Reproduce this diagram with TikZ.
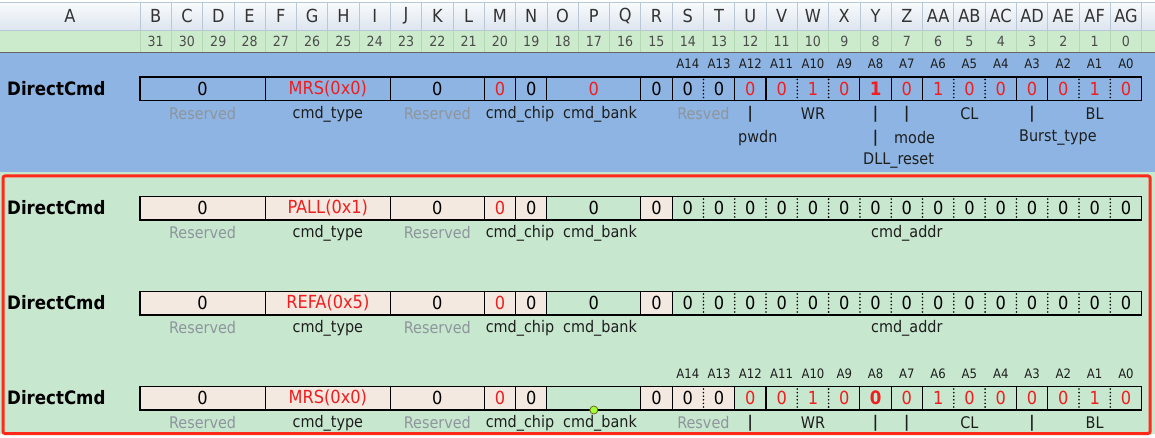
\documentclass[tikz,border=0pt]{standalone}
\usepackage{fontspec}
\setmainfont{DejaVu Sans Condensed}
\definecolor{hdrtop}{HTML}{F9FBFD}
\definecolor{hdrbot}{HTML}{DDE5EF}
\definecolor{hdrline}{HTML}{BAC7D6}
\definecolor{numrow}{HTML}{CCEACC}
\definecolor{numline}{HTML}{B3D8B3}
\definecolor{bluebg}{HTML}{8DB4E2}
\definecolor{greenbg}{HTML}{C7E7CF}
\definecolor{beige}{HTML}{F3E9E1}
\definecolor{redtxt}{HTML}{F01E1E}
\definecolor{greytxt}{HTML}{8E959D}
\definecolor{framered}{HTML}{FF2A1A}
\definecolor{darktxt}{HTML}{1E1E1E}
\newcommand\fs[1]{\fontsize{#1}{#1}\selectfont}
\newcommand\fld[7]{\node[fieldbox, fill=#5, text=#6, minimum width={(#3-#2+1)*31.3pt}] (#1) at ({140+31.3*(#2)},#4) {#7};}
\newcommand\bitrow[4]{\foreach \b/\c/\t in {#4} {\node[bitcell, fill=#3, text=\c] (#1b\b) at ({140+31.3*(31-\b)},#2) {\t};}}
\tikzset{
  fieldbox/.style={draw=black, line width=1.1pt, anchor=north west, inner sep=0pt, outer sep=0pt, minimum height=23.5pt, font=\fs{18}},
  bitcell/.style={anchor=north west, inner sep=0pt, outer sep=0pt, minimum width=31.3pt, minimum height=23.5pt, font=\fs{18}},
  gbox/.style={draw=black, line width=1.1pt},
  dsep/.style={draw=black, line width=1.8pt, line cap=round, dash pattern=on 0pt off 3.6pt},
  lbl/.style={font=\fs{16}, inner sep=0pt, text=darktxt},
  bar/.style={font=\fs{16}\bfseries, inner sep=0pt, text=darktxt},
  glbl/.style={font=\fs{16}, inner sep=0pt, text=greytxt},
  alb/.style={font=\fs{13}, inner sep=0pt, text=darktxt},
  rowname/.style={font=\fs{18.5}\bfseries, inner sep=0pt, anchor=west, text=black},
  colhdr/.style={font=\fs{18}, inner sep=0pt, text=black!80},
  colnum/.style={font=\fs{14}, inner sep=0pt, text=black!70},
}
\begin{document}
\begin{tikzpicture}[x=1pt,y=-1pt]
\useasboundingbox (0,0) rectangle (1155,438);
% backgrounds
\fill[white] (0,0) rectangle (1155,438);
\shade[top color=hdrtop, bottom color=hdrbot] (0,2) rectangle (1155,30);
\fill[numrow] (0,30) rectangle (1155,52);
\fill[bluebg] (0,53) rectangle (1155,172);
\fill[greenbg] (0,172) rectangle (1155,434);
\draw[hdrline, line width=0.8pt] (0,2) -- (1155,2);
\draw[hdrline, line width=0.8pt] (0,30) -- (1155,30);
\draw[black!60, line width=1.5pt] (0,52.5) -- (1155,52.5);
\foreach \i in {0,...,32} {
  \draw[hdrline, line width=0.8pt] ({140+31.3*\i},2) -- ({140+31.3*\i},30);
  \draw[numline, line width=0.8pt] ({140+31.3*\i},30) -- ({140+31.3*\i},52);
}
% column headers
\node[colhdr] (hA) at (70,16) {A};
\foreach [count=\k from 0] \L in {B,C,D,E,F,G,H,I,J,K,L,M,N,O,P,Q,R,S,T,U,V,W,X,Y,Z,AA,AB,AC,AD,AE,AF,AG} {
  \node[colhdr] (h\L) at ({140+31.3*(\k+0.5)},16) {\L};
  \pgfmathtruncatemacro\bitno{31-\k}
  \node[colnum] (n\L) at ({140+31.3*(\k+0.5)},41) {\bitno};
}
% red frame
\draw[framered, line width=3pt, rounded corners=2pt] (3,176) rectangle (1150,433.5);

% ================= Row 1 (blue) =================
\node[rowname] (name1) at (7,89) {DirectCmd};
\foreach \b in {0,...,14} {\node[alb] (r1a\b) at ({140+31.3*(31-\b+0.5)},64) {A\b};}
\fld{r1res}{0}{3}{77}{bluebg}{black}{0}
\fld{r1typ}{4}{7}{77}{bluebg}{redtxt}{MRS(0x0)}
\fld{r1rsv}{8}{10}{77}{bluebg}{black}{0}
\fld{r1chA}{11}{11}{77}{bluebg}{redtxt}{0}
\fld{r1chB}{12}{12}{77}{bluebg}{black}{0}
\fld{r1bnk}{13}{15}{77}{bluebg}{redtxt}{0}
\fld{r1b15}{16}{16}{77}{bluebg}{black}{0}
\bitrow{r1}{77}{bluebg}{14/black/0,13/black/0,12/redtxt/0,11/redtxt/0,10/redtxt/1,9/redtxt/0,8/redtxt/{\bfseries\fs{18.5}1},7/redtxt/0,6/redtxt/1,5/redtxt/0,4/redtxt/0,3/redtxt/0,2/redtxt/0,1/redtxt/1,0/redtxt/0}
\foreach \h/\l in {14/13,12/12,11/9,8/8,7/7,6/4,3/3,2/0} {\draw[gbox] (r1b\h.north west) rectangle (r1b\l.south east);}
\foreach \b in {14,11,10,6,5,2,1} {\draw[dsep] ([yshift=-2.5pt]r1b\b.north east) -- ([yshift=2pt]r1b\b.south east);}
\node[glbl] (r1l1) at (202.6,114) {Reserved};
\node[lbl] (r1l2) at (327.8,114) {cmd\_type};
\node[glbl] (r1l3) at (437.3,114) {Reserved};
\node[lbl] (r1l4) at (520,114) {cmd\_chip};
\node[lbl] (r1l5) at (600,114) {cmd\_bank};
\node[glbl] (r1l6) at (703.4,114) {Resved};
\node[bar] (r1l7) at (750.3,114) {|};
\node[lbl] (r1l8) at (812.9,114) {WR};
\node[bar] (r1l9) at (875.5,114) {|};
\node[bar] (r1l10) at (906.8,114) {|};
\node[lbl] (r1l11) at (969.4,114) {CL};
\node[bar] (r1l12) at (1032,114) {|};
\node[lbl] (r1l13) at (1094.6,114) {BL};
\node[lbl, anchor=west] (r1m1) at (738,138) {pwdn};
\node[bar] (r1m2) at (875.5,138) {|};
\node[lbl, anchor=west] (r1m3) at (894,138) {mode};
\node[lbl, anchor=west] (r1m4) at (1019,138) {Burst\_type};
\node[lbl, anchor=west] (r1n1) at (863,161) {DLL\_reset};

% ================= Row 2 =================
\node[rowname] (name2) at (7,208) {DirectCmd};
\fld{r2res}{0}{3}{196.5}{beige}{black}{0}
\fld{r2typ}{4}{7}{196.5}{beige}{redtxt}{PALL(0x1)}
\fld{r2rsv}{8}{10}{196.5}{beige}{black}{0}
\fld{r2chA}{11}{11}{196.5}{beige}{redtxt}{0}
\fld{r2chB}{12}{12}{196.5}{beige}{black}{0}
\fld{r2bnk}{13}{15}{196.5}{greenbg}{black}{0}
\fld{r2b15}{16}{16}{196.5}{beige}{black}{0}
\bitrow{r2}{196.5}{greenbg}{14/black/0,13/black/0,12/black/0,11/black/0,10/black/0,9/black/0,8/black/0,7/black/0,6/black/0,5/black/0,4/black/0,3/black/0,2/black/0,1/black/0,0/black/0}
\draw[gbox] (r2b14.north west) rectangle (r2b0.south east);
\foreach \b in {1,...,14} {\draw[dsep] ([yshift=-2.5pt]r2b\b.north east) -- ([yshift=2pt]r2b\b.south east);}
\node[glbl] (r2l1) at (202.6,233) {Reserved};
\node[lbl] (r2l2) at (327.8,233) {cmd\_type};
\node[glbl] (r2l3) at (437.3,233) {Reserved};
\node[lbl] (r2l4) at (520,233) {cmd\_chip};
\node[lbl] (r2l5) at (600,233) {cmd\_bank};
\node[lbl] (r2l6) at (906.8,233) {cmd\_addr};

% ================= Row 3 =================
\node[rowname] (name3) at (7,303) {DirectCmd};
\fld{r3res}{0}{3}{291.5}{beige}{black}{0}
\fld{r3typ}{4}{7}{291.5}{beige}{redtxt}{REFA(0x5)}
\fld{r3rsv}{8}{10}{291.5}{beige}{black}{0}
\fld{r3chA}{11}{11}{291.5}{beige}{redtxt}{0}
\fld{r3chB}{12}{12}{291.5}{beige}{black}{0}
\fld{r3bnk}{13}{15}{291.5}{greenbg}{black}{0}
\fld{r3b15}{16}{16}{291.5}{beige}{black}{0}
\bitrow{r3}{291.5}{greenbg}{14/black/0,13/black/0,12/black/0,11/black/0,10/black/0,9/black/0,8/black/0,7/black/0,6/black/0,5/black/0,4/black/0,3/black/0,2/black/0,1/black/0,0/black/0}
\draw[gbox] (r3b14.north west) rectangle (r3b0.south east);
\foreach \b in {1,...,14} {\draw[dsep] ([yshift=-2.5pt]r3b\b.north east) -- ([yshift=2pt]r3b\b.south east);}
\node[glbl] (r3l1) at (202.6,328) {Reserved};
\node[lbl] (r3l2) at (327.8,328) {cmd\_type};
\node[glbl] (r3l3) at (437.3,328) {Reserved};
\node[lbl] (r3l4) at (520,328) {cmd\_chip};
\node[lbl] (r3l5) at (600,328) {cmd\_bank};
\node[lbl] (r3l6) at (906.8,328) {cmd\_addr};

% ================= Row 4 =================
\node[rowname] (name4) at (7,398) {DirectCmd};
\foreach \b in {0,...,14} {\node[alb] (r4a\b) at ({140+31.3*(31-\b+0.5)},373.5) {A\b};}
\fld{r4res}{0}{3}{386.5}{beige}{black}{0}
\fld{r4typ}{4}{7}{386.5}{beige}{redtxt}{MRS(0x0)}
\fld{r4rsv}{8}{10}{386.5}{beige}{black}{0}
\fld{r4chA}{11}{11}{386.5}{beige}{redtxt}{0}
\fld{r4chB}{12}{12}{386.5}{beige}{black}{0}
\fld{r4bnk}{13}{15}{386.5}{greenbg}{black}{}
\fld{r4b15}{16}{16}{386.5}{beige}{black}{0}
\bitrow{r4}{386.5}{beige}{14/black/0,13/black/0}
\bitrow{r4}{386.5}{greenbg}{12/redtxt/0,11/redtxt/0,10/redtxt/1,9/redtxt/0,8/redtxt/{\bfseries\fs{18.5}0},7/redtxt/0,6/redtxt/1,5/redtxt/0,4/redtxt/0,3/redtxt/0,2/redtxt/0,1/redtxt/1,0/redtxt/0}
\foreach \h/\l in {14/13,12/12,11/9,8/8,7/7,6/4,3/3,2/0} {\draw[gbox] (r4b\h.north west) rectangle (r4b\l.south east);}
\foreach \b in {14,11,10,6,5,2,1} {\draw[dsep] ([yshift=-2.5pt]r4b\b.north east) -- ([yshift=2pt]r4b\b.south east);}
\node[draw=olive!70!black, fill=green!45!yellow!80!white, circle, inner sep=0pt, minimum size=8pt, line width=0.8pt] (cursor) at (r4bnk.south) {};
\node[glbl] (r4l1) at (202.6,423) {Reserved};
\node[lbl] (r4l2) at (327.8,423) {cmd\_type};
\node[glbl] (r4l3) at (437.3,423) {Reserved};
\node[lbl] (r4l4) at (520,423) {cmd\_chip};
\node[lbl] (r4l5) at (600,423) {cmd\_bank};
\node[glbl] (r4l6) at (703.4,423) {Resved};
\node[bar] (r4l7) at (750.3,423) {|};
\node[lbl] (r4l8) at (812.9,423) {WR};
\node[bar] (r4l9) at (875.5,423) {|};
\node[bar] (r4l10) at (906.8,423) {|};
\node[lbl] (r4l11) at (969.4,423) {CL};
\node[bar] (r4l12) at (1032,423) {|};
\node[lbl] (r4l13) at (1094.6,423) {BL};
\end{tikzpicture}
\end{document}
